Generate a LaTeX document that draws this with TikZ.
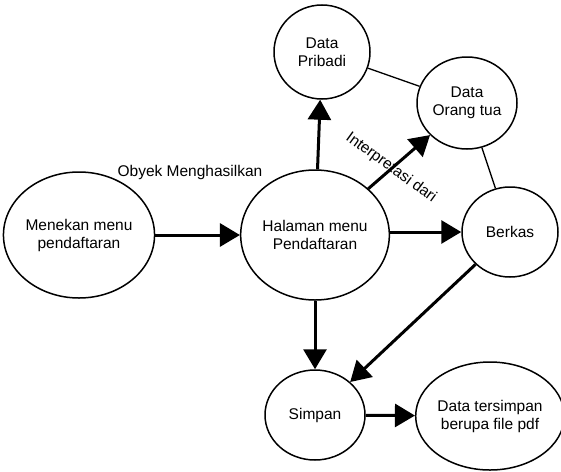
\documentclass[tikz,border=0pt]{standalone}
\usepackage{fontspec}
\setmainfont{Liberation Sans}
\usepackage{tikz}
\usetikzlibrary{shapes.geometric,arrows.meta}

\begin{document}
\begin{tikzpicture}[x=1pt,y=-1pt,
    bub/.style={ellipse, draw, line width=1.5pt, inner sep=0pt, align=center,
        font=\fontsize{15.5}{18}\selectfont},
    arr/.style={line width=3pt, -{Triangle[length=20pt,width=23pt]}},
    link/.style={line width=1.3pt},
    lbl/.style={font=\fontsize{15.5}{18}\selectfont}]
\useasboundingbox (0,0) rectangle (561,471);

% Bubbles
\node[bub, minimum width=128pt, minimum height=126pt] (men) at (79,235) {Menekan menu\\pendaftaran};
\node[bub, minimum width=132pt, minimum height=130pt] (hal) at (315,235) {Halaman menu\\Pendaftaran};
\node[bub, minimum width=96pt, minimum height=94pt] (prib) at (322,52) {Data\\Pribadi};
\node[bub, minimum width=100pt, minimum height=92pt] (ortu) at (467,103) {Data\\Orang tua};
\node[bub, minimum width=96pt, minimum height=90pt] (berk) at (510,232) {Berkas};
\node[bub, minimum width=100pt, minimum height=90pt] (simp) at (315,415) {Simpan};
\node[bub, minimum width=124pt, minimum height=108pt] (pdf) at (490,416) {Data tersimpan\\berupa file pdf};

% Arrows
\draw[arr] (men) -- (hal);
\draw[arr] (hal) -- (prib);
\draw[arr] (hal) -- (ortu);
\draw[arr] (hal.east |- berk.west) -- (berk);
\draw[arr] (hal) -- (simp);
\draw[arr] (berk) -- (simp);
\draw[arr] (simp) -- (pdf);

% Thin links
\draw[link] (prib) -- (ortu);
\draw[link] (ortu) -- (berk);

% Labels
\node[lbl] (obyek) at (190,172) {Obyek Menghasilkan};
\node[lbl, rotate=-36] (interp) at (391,168) {Interpretasi dari};
\end{tikzpicture}
\end{document}
